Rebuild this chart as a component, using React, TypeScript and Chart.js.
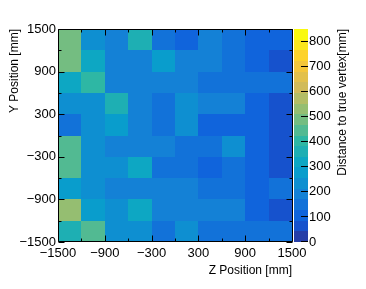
import React, { useEffect, useRef } from "react";
import { Chart, registerables } from "chart.js";

Chart.register(...registerables);

// ---------- data ----------
const zBinEdges = [-1500, -1200, -900, -600, -300, 0, 300, 600, 900, 1200, 1500];
const yBinEdges = [-1500, -1200, -900, -600, -300, 0, 300, 600, 900, 1200, 1500];
const zMajorTicks = [-1500, -900, -300, 300, 900, 1500];
const zMinorTicks = [-1200, -600, 0, 600, 1200];
const yMajorTicks = [-1500, -900, -300, 300, 900, 1500];
const yMinorTicks = [-1200, -600, 0, 600, 1200];
const paletteTicks = [0, 100, 200, 300, 400, 500, 600, 700, 800];
const paletteMin = 0;
const paletteMax = 850;
const paletteLevels = 20;

// distance values per bin, rows from bottom (Y -1500..-1200) to top (Y 1200..1500), columns Z -1500 -> 1500
const rowY0 = [380, 450, 240, 245, 150, 215, 160, 145, 140, 135];
const rowY1 = [525, 295, 230, 315, 185, 180, 175, 175, 105, 65];
const rowY2 = [290, 235, 190, 190, 190, 175, 150, 140, 105, 150];
const rowY3 = [450, 235, 225, 320, 150, 150, 125, 130, 105, 65];
const rowY4 = [450, 235, 185, 185, 190, 165, 150, 235, 105, 65];
const rowY5 = [160, 235, 280, 195, 150, 220, 115, 120, 105, 65];
const rowY6 = [230, 230, 360, 190, 150, 225, 185, 180, 105, 65];
const rowY7 = [300, 400, 190, 190, 185, 180, 150, 145, 145, 145];
const rowY8 = [490, 310, 190, 190, 270, 175, 175, 140, 105, 65];
const rowY9 = [490, 245, 190, 380, 150, 105, 170, 140, 105, 105];
const rows = [rowY0, rowY1, rowY2, rowY3, rowY4, rowY5, rowY6, rowY7, rowY8, rowY9];

const xTitle = "Z Position [mm]";
const yTitle = "Y Position [mm]";
const zTitle = "Distance to true vertex[mm]";

const FONT = "'Liberation Sans', Arial, Helvetica, sans-serif";

// ---------- ROOT kBird palette ----------
const birdStops = [0.0, 0.125, 0.25, 0.375, 0.5, 0.625, 0.75, 0.875, 1.0];
const birdR = [0.2082, 0.0592, 0.078, 0.0232, 0.1802, 0.5301, 0.8186, 0.9956, 0.9764];
const birdG = [0.1664, 0.3599, 0.5041, 0.6419, 0.7178, 0.7492, 0.7328, 0.7862, 0.9832];
const birdB = [0.5293, 0.8684, 0.8385, 0.7914, 0.6425, 0.4662, 0.3499, 0.1968, 0.0539];

function buildPalette(n: number): string[] {
  const out: string[] = [];
  for (let g = 1; g < birdStops.length; g++) {
    const nc = Math.floor(n * birdStops[g]) - Math.floor(n * birdStops[g - 1]);
    for (let c = 0; c < nc; c++) {
      const r = birdR[g - 1] + (c * (birdR[g] - birdR[g - 1])) / nc;
      const gg = birdG[g - 1] + (c * (birdG[g] - birdG[g - 1])) / nc;
      const b = birdB[g - 1] + (c * (birdB[g] - birdB[g - 1])) / nc;
      out.push(`rgb(${Math.round(r * 255)},${Math.round(gg * 255)},${Math.round(b * 255)})`);
    }
  }
  return out;
}
const palette = buildPalette(255);

function levelColor(level: number): string {
  const idx = Math.min(palette.length - 1, Math.floor(((level + 0.99) * palette.length) / paletteLevels));
  return palette[idx];
}
function valueColor(v: number): string {
  let level = Math.floor(0.01 + ((v - paletteMin) * paletteLevels) / (paletteMax - paletteMin));
  level = Math.max(0, Math.min(paletteLevels - 1, level));
  return levelColor(level);
}

function fmt(v: number): string {
  return v < 0 ? "\u2212" + Math.abs(v) : String(v);
}

// cells as points (center + bin edges + value)
const cells: any[] = [];
rows.forEach((row, j) => {
  row.forEach((v, i) => {
    cells.push({
      x: (zBinEdges[i] + zBinEdges[i + 1]) / 2,
      y: (yBinEdges[j] + yBinEdges[j + 1]) / 2,
      x0: zBinEdges[i],
      x1: zBinEdges[i + 1],
      y0: yBinEdges[j],
      y1: yBinEdges[j + 1],
      v,
    });
  });
});

const heatmapPlugin = {
  id: "heatmap",
  beforeDatasetsDraw(chart: any) {
    const { ctx } = chart;
    const xs = chart.scales.x;
    const ys = chart.scales.y;
    const data = chart.data.datasets[0].data as any[];
    ctx.save();
    for (const c of data) {
      const px0 = Math.round(xs.getPixelForValue(c.x0));
      const px1 = Math.round(xs.getPixelForValue(c.x1));
      const py0 = Math.round(ys.getPixelForValue(c.y0));
      const py1 = Math.round(ys.getPixelForValue(c.y1));
      ctx.fillStyle = valueColor(c.v);
      ctx.fillRect(px0, py1, px1 - px0, py0 - py1);
    }
    ctx.restore();
  },
  afterDraw(chart: any) {
    const { ctx, chartArea } = chart;
    const xs = chart.scales.x;
    const ys = chart.scales.y;
    const cs = chart.scales.c;
    const L = Math.round(chartArea.left) + 0.5;
    const R = Math.round(chartArea.right) + 0.5;
    const T = Math.round(chartArea.top) + 0.5;
    const B = Math.round(chartArea.bottom) - 0.5;
    ctx.save();
    // colour bar
    const cbL = Math.round(chartArea.right) + 2;
    const cbW = 14;
    for (let i = 0; i < paletteLevels; i++) {
      const v0 = paletteMin + ((paletteMax - paletteMin) * i) / paletteLevels;
      const v1 = paletteMin + ((paletteMax - paletteMin) * (i + 1)) / paletteLevels;
      const p0 = Math.round(cs.getPixelForValue(v0));
      const p1 = Math.round(cs.getPixelForValue(v1));
      ctx.fillStyle = levelColor(i);
      ctx.fillRect(cbL, p1, cbW, p0 - p1);
    }
    ctx.strokeStyle = "#000";
    ctx.lineWidth = 1;
    ctx.beginPath();
    // colour bar ticks
    for (const t of paletteTicks) {
      const p = Math.round(cs.getPixelForValue(t)) - 0.5;
      ctx.moveTo(cbL + cbW, p);
      ctx.lineTo(cbL + cbW - 7, p);
    }
    // frame
    ctx.moveTo(L, T); ctx.lineTo(R, T); ctx.lineTo(R, B); ctx.lineTo(L, B); ctx.closePath();
    // x ticks
    const xt = (v: number, len: number) => {
      const p = Math.round(xs.getPixelForValue(v)) + 0.5;
      ctx.moveTo(p, B); ctx.lineTo(p, B - len);
      ctx.moveTo(p, T); ctx.lineTo(p, T + len);
    };
    zMajorTicks.forEach((v) => xt(v, 6));
    zMinorTicks.forEach((v) => xt(v, 3));
    const yt = (v: number, len: number) => {
      const p = Math.round(ys.getPixelForValue(v)) + 0.5;
      ctx.moveTo(L, p); ctx.lineTo(L + len, p);
      ctx.moveTo(R, p); ctx.lineTo(R - len, p);
    };
    yMajorTicks.forEach((v) => yt(v, 6));
    yMinorTicks.forEach((v) => yt(v, 3));
    ctx.stroke();
    // colour bar title
    ctx.fillStyle = "#000";
    ctx.font = `12px ${FONT}`;
    ctx.textAlign = "right";
    ctx.textBaseline = "middle";
    ctx.translate(cs.left + 51, chartArea.top);
    ctx.rotate(-Math.PI / 2);
    ctx.fillText(zTitle, 0, 0);
    ctx.restore();
  },
};

export default function App() {
  const ref = useRef<HTMLCanvasElement>(null);
  useEffect(() => {
    document.body.style.margin = "0";
    const chart = new Chart(ref.current as HTMLCanvasElement, {
      type: "scatter",
      data: {
        datasets: [
          {
            data: cells,
            pointRadius: 0,
            pointHoverRadius: 0,
            showLine: false,
          },
        ],
      },
      options: {
        responsive: false,
        animation: false,
        devicePixelRatio: 1,
        layout: { padding: { top: 29, left: 0, right: 0, bottom: 0 } },
        plugins: { legend: { display: false }, tooltip: { enabled: false } },
        scales: {
          x: {
            type: "linear",
            position: "bottom",
            min: -1500,
            max: 1500,
            afterBuildTicks: (s: any) => {
              s.ticks = zMajorTicks.map((v) => ({ value: v }));
            },
            afterFit: (s: any) => {
              s.height = 47;
            },
            grid: { display: false, drawTicks: false },
            border: { display: false },
            ticks: {
              autoSkip: false,
              maxRotation: 0,
              padding: 4,
              color: "#000",
              font: { family: FONT, size: 13 },
              callback: (v: any) => fmt(Number(v)),
            },
            title: {
              display: true,
              text: xTitle,
              align: "end",
              color: "#000",
              font: { family: FONT, size: 12 },
              padding: { top: 0, bottom: 11 },
            },
          },
          y: {
            type: "linear",
            position: "left",
            min: -1500,
            max: 1500,
            afterBuildTicks: (s: any) => {
              s.ticks = yMajorTicks.map((v) => ({ value: v }));
            },
            afterFit: (s: any) => {
              s.width = 58;
            },
            grid: { display: false, drawTicks: false },
            border: { display: false },
            ticks: {
              autoSkip: false,
              padding: 2,
              color: "#000",
              font: { family: FONT, size: 13 },
              callback: (v: any) => fmt(Number(v)),
            },
            title: {
              display: true,
              text: yTitle,
              align: "end",
              color: "#000",
              font: { family: FONT, size: 12 },
              padding: { top: 7, bottom: 0 },
            },
          },
          c: {
            type: "linear",
            axis: "y",
            position: "right",
            min: paletteMin,
            max: paletteMax,
            afterBuildTicks: (s: any) => {
              s.ticks = paletteTicks.map((v) => ({ value: v }));
            },
            afterFit: (s: any) => {
              s.width = 74;
            },
            grid: { display: false, drawTicks: false },
            border: { display: false },
            ticks: {
              autoSkip: false,
              padding: 17,
              color: "#000",
              font: { family: FONT, size: 13 },
            },
          },
        },
      } as any,
      plugins: [heatmapPlugin],
    });
    return () => chart.destroy();
  }, []);
  return (
    <div style={{ width: 366, height: 289 }}>
      <canvas ref={ref} width={366} height={289} style={{ display: "block" }} />
    </div>
  );
}
